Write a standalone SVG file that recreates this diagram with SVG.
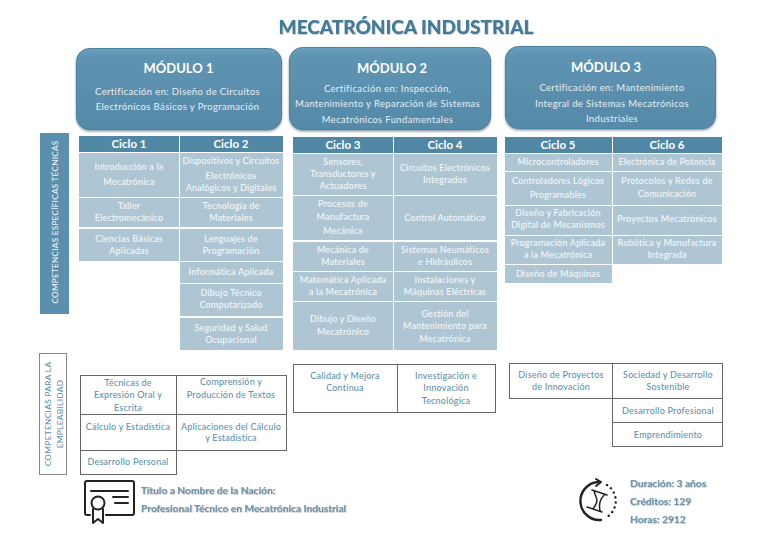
<svg xmlns="http://www.w3.org/2000/svg" width="768" height="543" viewBox="0 0 768 543">
<style>
text{font-family:Lato,"Liberation Sans",sans-serif;text-anchor:middle}
.title{font-size:19px;font-weight:900;fill:#3f7c9c;filter:url(#soft)}
.mod{fill:url(#mg);stroke:#4d809c;stroke-width:1;filter:url(#sh)}
.mh{font-size:13px;font-weight:700;fill:#fff}
.ms{font-size:9.5px;fill:#e6eff4;letter-spacing:.36px}
.hd{fill:#4f87a5}
.ht{font-size:11.5px;font-weight:700;fill:#fff}
.c{fill:#aec6d4}
.t{font-size:9px;font-weight:500;fill:#f4f7f9;letter-spacing:.2px}
.b{fill:#fff;stroke:#666;stroke-width:1}
.bt{font-size:9px;font-weight:500;fill:#5f93b0;letter-spacing:.2px}
.info{font-size:10.200px;font-weight:700;fill:#6f97ae;text-anchor:start;filter:url(#soft)}
.ic{fill:none;stroke:#222;stroke-width:2;stroke-linecap:round;stroke-linejoin:round}
</style>
<defs>
<linearGradient id="mg" x1="0" y1="0" x2="0" y2="1"><stop offset="0" stop-color="#6c9fbc"/><stop offset=".1" stop-color="#5e94b2"/><stop offset="1" stop-color="#558aa8"/></linearGradient>
<filter id="sh" x="-5%" y="-5%" width="110%" height="115%"><feDropShadow dx="0" dy="1.5" stdDeviation="1.2" flood-color="#33576b" flood-opacity=".6"/></filter>
<filter id="soft" x="-5%" y="-20%" width="110%" height="140%"><feDropShadow dx=".5" dy=".5" stdDeviation=".6" flood-color="#777" flood-opacity=".7"/></filter>
</defs>
<rect width="768" height="543" fill="#fff"/>
<text id="title" class="title" x="406" y="34">MECATRÓNICA INDUSTRIAL</text>

<g id="modulo1"><rect class="mod" x="76.500" y="48.500" width="205" height="81" rx="13"/><text class="mh" x="178.500" y="73">MÓDULO 1</text><text class="ms" x="177.500" y="95">Certificación en: Diseño de Circuitos</text><text class="ms" x="177.500" y="110">Electrónicos Básicos y Programación</text></g>
<g id="modulo2"><rect class="mod" x="289.500" y="47.500" width="201" height="82" rx="13"/><text class="mh" x="392" y="73">MÓDULO 2</text><text class="ms" x="387.500" y="92">Certificación en: Inspección,</text><text class="ms" x="387.500" y="107">Mantenimiento y Reparación de Sistemas</text><text class="ms" x="387.500" y="123">Mecatrónicos Fundamentales</text></g>
<g id="modulo3"><rect class="mod" x="505.500" y="46.500" width="210" height="82" rx="13"/><text class="mh" x="606" y="72">MÓDULO 3</text><text class="ms" x="612" y="91">Certificación en: Mantenimiento</text><text class="ms" x="612" y="107">Integral de Sistemas Mecatrónicos</text><text class="ms" x="612" y="122">Industriales</text></g>

<g id="competencias-tecnicas"><rect x="40" y="133" width="29" height="181" fill="#5b8fae"/><text x="58" y="222" transform="rotate(-90 58 222)" font-size="8.200" font-weight="500" fill="#eef4f7" letter-spacing=".25">COMPETENCIAS ESPECÍFICAS TÉCNICAS</text></g>
<g id="competencias-empleabilidad"><rect x="39.500" y="353.500" width="27" height="121" fill="#fff" stroke="#888" stroke-width="1"/><text transform="rotate(-90 51 414)" x="51" y="414" font-size="8.300" font-weight="500" fill="#5f93b0" letter-spacing=".3">COMPETENCIAS  PARA LA</text><text transform="rotate(-90 63 414)" x="63" y="414" font-size="8.300" font-weight="500" fill="#5f93b0" letter-spacing=".3">EMPLEABILIDAD</text></g>

<g id="ciclo1"><rect class="hd" x="79" y="136" width="100" height="16"/><text class="ht" x="129" y="148">Ciclo 1</text>
<rect class="c" x="79" y="153" width="100" height="44"/><text class="t" x="129" y="170">Introducción a la</text><text class="t" x="129" y="185">Mecatrónica</text>
<rect class="c" x="79" y="198" width="100" height="29"/><text class="t" x="129" y="209">Taller</text><text class="t" x="129" y="221">Electromecánico</text>
<rect class="c" x="79" y="229" width="100" height="32"/><text class="t" x="129" y="242">Ciencias Básicas</text><text class="t" x="129" y="254">Aplicadas</text></g>
<g id="ciclo2"><rect class="hd" x="180" y="136" width="103" height="16"/><text class="ht" x="231" y="148">Ciclo 2</text>
<rect class="c" x="180" y="153" width="103" height="44"/><text class="t" x="231" y="164">Dispositivos y Circuitos</text><text class="t" x="231" y="179">Electrónicos</text><text class="t" x="231" y="191">Analógicos y Digitales</text>
<rect class="c" x="180" y="198" width="103" height="29"/><text class="t" x="231" y="209">Tecnología de</text><text class="t" x="231" y="221">Materiales</text>
<rect class="c" x="180" y="229" width="103" height="32"/><text class="t" x="231" y="242">Lenguajes de</text><text class="t" x="231" y="254">Programación</text>
<rect class="c" x="180" y="262" width="103" height="21"/><text class="t" x="231" y="275">Informática Aplicada</text>
<rect class="c" x="180" y="284" width="103" height="32"/><text class="t" x="231" y="296">Dibujo Técnico</text><text class="t" x="231" y="308">Computarizado</text>
<rect class="c" x="180" y="318" width="103" height="32"/><text class="t" x="231" y="331">Seguridad y Salud</text><text class="t" x="231" y="343">Ocupacional</text></g>

<g id="ciclo3"><rect class="hd" x="293" y="137" width="100" height="16"/><text class="ht" x="343" y="149">Ciclo 3</text>
<rect class="c" x="293" y="154" width="100" height="41"/><text class="t" x="343" y="165">Sensores,</text><text class="t" x="343" y="177">Transductores y</text><text class="t" x="343" y="189">Actuadores</text>
<rect class="c" x="293" y="196" width="100" height="44"/><text class="t" x="343" y="207">Procesos de</text><text class="t" x="343" y="220">Manufactura</text><text class="t" x="343" y="234">Mecánica</text>
<rect class="c" x="293" y="242" width="100" height="29"/><text class="t" x="343" y="253">Mecánica de</text><text class="t" x="343" y="265">Materiales</text>
<rect class="c" x="293" y="272" width="100" height="29"/><text class="t" x="343" y="283">Matemática Aplicada</text><text class="t" x="343" y="295">a la Mecatrónica</text>
<rect class="c" x="293" y="302" width="100" height="48"/><text class="t" x="343" y="322">Dibujo y Diseño</text><text class="t" x="343" y="335">Mecatrónico</text></g>
<g id="ciclo4"><rect class="hd" x="394" y="137" width="103" height="16"/><text class="ht" x="445" y="149">Ciclo 4</text>
<rect class="c" x="394" y="154" width="103" height="41"/><text class="t" x="445" y="171">Circuitos Electrónicos</text><text class="t" x="445" y="183">Integrados</text>
<rect class="c" x="394" y="196" width="103" height="44"/><text class="t" x="445" y="221">Control Automático</text>
<rect class="c" x="394" y="242" width="103" height="29"/><text class="t" x="445" y="253">Sistemas Neumáticos</text><text class="t" x="445" y="265">e Hidráulicos</text>
<rect class="c" x="394" y="272" width="103" height="29"/><text class="t" x="445" y="283">Instalaciones y</text><text class="t" x="445" y="295">Máquinas Eléctricas</text>
<rect class="c" x="394" y="302" width="103" height="48"/><text class="t" x="445" y="317">Gestión del</text><text class="t" x="445" y="329">Mantenimiento para</text><text class="t" x="445" y="342">Mecatrónica</text></g>

<g id="ciclo5"><rect class="hd" x="505" y="137" width="107" height="16"/><text class="ht" x="558" y="149">Ciclo 5</text>
<rect class="c" x="505" y="154" width="107" height="17"/><text class="t" x="558" y="165">Microcontroladores</text>
<rect class="c" x="505" y="172" width="107" height="33"/><text class="t" x="558" y="184">Controladores Lógicos</text><text class="t" x="558" y="198">Programables</text>
<rect class="c" x="505" y="206" width="107" height="29"/><text class="t" x="558" y="216">Diseño y Fabricación</text><text class="t" x="558" y="228">Digital de Mecanismos</text>
<rect class="c" x="505" y="236" width="107" height="28"/><text class="t" x="558" y="246">Programación Aplicada</text><text class="t" x="558" y="258">a la Mecatrónica</text>
<rect class="c" x="505" y="265" width="107" height="18"/><text class="t" x="558" y="277">Diseño de Máquinas</text></g>
<g id="ciclo6"><rect class="hd" x="613" y="137" width="109" height="16"/><text class="ht" x="667" y="149">Ciclo 6</text>
<rect class="c" x="613" y="154" width="109" height="17"/><text class="t" x="667" y="165">Electrónica de Potencia</text>
<rect class="c" x="613" y="172" width="109" height="33"/><text class="t" x="667" y="184">Protocolos y Redes de</text><text class="t" x="667" y="197">Comunicación</text>
<rect class="c" x="613" y="206" width="109" height="29"/><text class="t" x="667" y="222">Proyectos Mecatrónicos</text>
<rect class="c" x="613" y="236" width="109" height="28"/><text class="t" x="667" y="246">Robótica y Manufactura</text><text class="t" x="667" y="258">Integrada</text></g>

<g id="empleabilidad-1">
<rect class="b" x="80.500" y="375.500" width="96" height="39"/><text class="bt" x="128" y="386">Técnicas de</text><text class="bt" x="128" y="398">Expresión Oral y</text><text class="bt" x="128" y="411">Escrita</text>
<rect class="b" x="176.500" y="375.500" width="110" height="39"/><text class="bt" x="231" y="385">Comprensión y</text><text class="bt" x="231" y="398">Producción de Textos</text>
<rect class="b" x="80.500" y="414.500" width="96" height="36"/><text class="bt" x="128" y="430">Cálculo y Estadística</text>
<rect class="b" x="176.500" y="414.500" width="110" height="36"/><text class="bt" x="231" y="430">Aplicaciones del Cálculo</text><text class="bt" x="231" y="441">y Estadística</text>
<rect class="b" x="80.500" y="450.500" width="96" height="24"/><text class="bt" x="128" y="465">Desarrollo Personal</text></g>
<g id="empleabilidad-2">
<rect class="b" x="293.500" y="364.500" width="104" height="48"/><text class="bt" x="345" y="379">Calidad y Mejora</text><text class="bt" x="345" y="391">Continua</text>
<rect class="b" x="397.500" y="364.500" width="98" height="48"/><text class="bt" x="446" y="379">Investigación e</text><text class="bt" x="446" y="391">Innovación</text><text class="bt" x="446" y="404">Tecnológica</text></g>
<g id="empleabilidad-3">
<rect class="b" x="509.500" y="363.500" width="103" height="35"/><text class="bt" x="561" y="378">Diseño de Proyectos</text><text class="bt" x="561" y="390">de Innovación</text>
<rect class="b" x="612.500" y="363.500" width="110" height="35"/><text class="bt" x="668" y="378">Sociedad y Desarrollo</text><text class="bt" x="668" y="390">Sostenible</text>
<rect class="b" x="612.500" y="398.500" width="110" height="24"/><text class="bt" x="668" y="414">Desarrollo Profesional</text>
<rect class="b" x="612.500" y="422.500" width="110" height="24"/><text class="bt" x="668" y="438">Emprendimiento</text></g>

<g id="titulo"><g class="ic">
<path d="M90 515H87Q85 515 85 513V483Q85 481 87 481H132Q134 481 134 483V513Q134 515 132 515H106"/>
<path d="M91 491H128M113 497H128M115 503H128"/>
<circle cx="98" cy="503" r="6.500"/><path d="M93 509V523L98 519L103 523V509"/></g>
<text class="info" x="141" y="494">Título a Nombre de la Nación:</text>
<text class="info" x="141" y="512">Profesional Técnico en Mecatrónica Industrial</text></g>

<g id="duracion"><g class="ic">
<path d="M598 482A19 19 0 1 0 601 520" style="stroke-width:2.400"/>
<path d="M596 479L601 482L596 486" style="stroke-width:2"/>
<path d="M607 485A19 19 0 0 1 607 517" style="stroke-width:2.400;stroke-dasharray:.1 5"/>
<path d="M592 490L607 495M587 507L602 512M594 491C596 499 600 499 593 509M605 494C599 500 599 505 600 511" style="stroke-width:1.500"/></g>
<text class="info" x="630" y="487">Duración: 3 años</text>
<text class="info" x="630" y="505">Créditos: 129</text>
<text class="info" x="630" y="523">Horas: 2912</text></g>
</svg>
